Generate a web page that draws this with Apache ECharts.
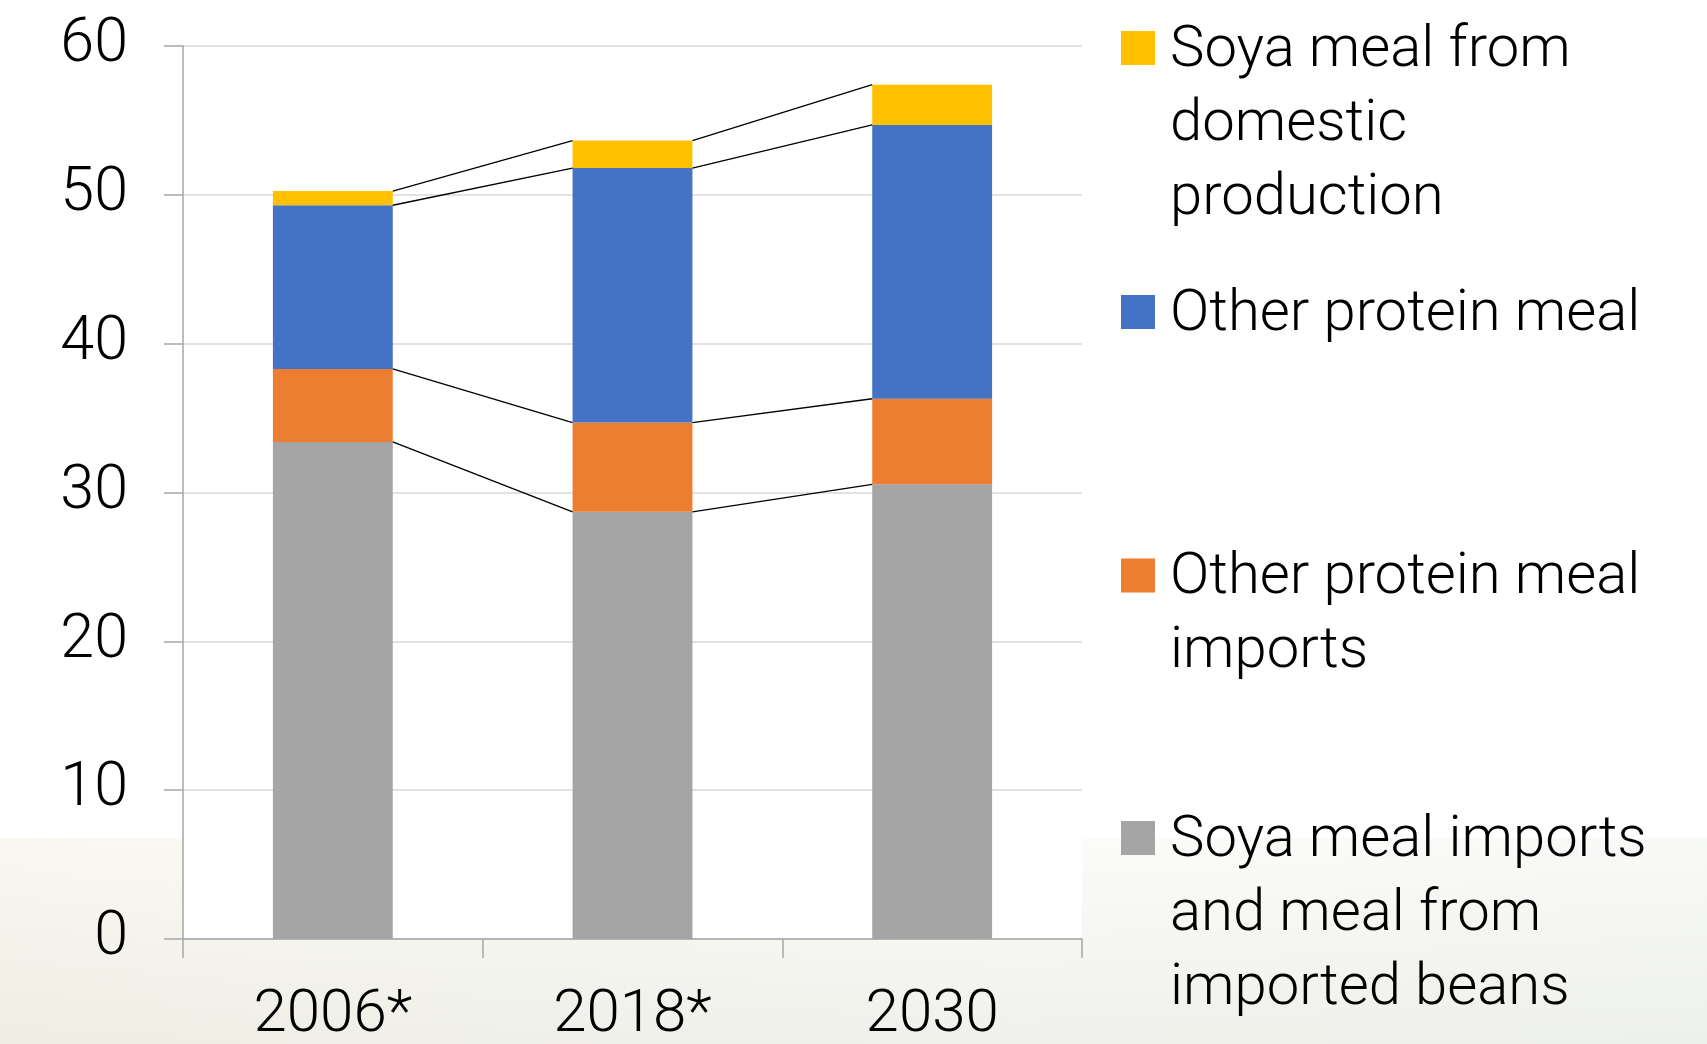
<!DOCTYPE html>
<html>
<head>
<meta charset="utf-8">
<script src="https://cdn.jsdelivr.net/npm/echarts@6/dist/echarts.min.js"></script>
<style>
html,body{margin:0;padding:0;background:#fff;}
#chart{width:1707px;height:1044px;}
</style>
</head>
<body>
<div id="chart"></div>
<script>
const categories = ['2006*', '2018*', '2030'];
const soyaImports = [33.4, 28.7, 30.55];
const otherImports = [4.9, 6.0, 5.75];
const otherMeal = [11.0, 17.1, 18.4];
const soyaDomestic = [0.95, 1.85, 2.7];
const seriesNames = [
  'Soya meal imports\nand meal from\nimported beans',
  'Other protein meal\nimports',
  'Other protein meal',
  'Soya meal from\ndomestic\nproduction'
];
const colors = ['#A5A5A5', '#ED7D31', '#4472C4', '#FFC000'];

const stacks = [soyaImports, otherImports, otherMeal, soyaDomestic];
const cum = [];
let run = categories.map(() => 0);
stacks.forEach(s => { run = run.map((v, i) => v + s[i]); cum.push(run.slice()); });

const FONT = 'Roboto';
const FS = 58;
const LH = 74;
const DROP = 3;

function legendFor(idx, centerY) {
  const lines = seriesNames[idx].split('\n');
  const n = lines.length;
  const T = 2 * DROP + (n - 1) * LH;
  const H = T + n * LH;
  return {
    orient: 'vertical',
    left: 1121,
    top: centerY - H / 2,
    padding: 0,
    icon: 'rect',
    itemWidth: 34,
    itemHeight: 34,
    selectedMode: false,
    data: [seriesNames[idx]],
    formatter: function () {
      return '{s| }\n' + lines.map(l => '{t|' + l + '}').join('\n');
    },
    textStyle: {
      fontFamily: FONT, fontWeight: 300, fontSize: FS, lineHeight: LH, color: '#000',
      padding: [0, 0, 0, 10],
      rich: {
        s: {fontSize: 2, lineHeight: T},
        t: {fontFamily: FONT, fontWeight: 300, fontSize: FS, lineHeight: LH, color: '#000'}
      }
    }
  };
}

const chart = echarts.init(document.getElementById('chart'), null, {renderer: 'canvas'});
const barSeries = stacks.map((s, k) => ({
  name: seriesNames[k],
  type: 'bar',
  stack: 'total',
  barWidth: '40%',
  itemStyle: {color: colors[k]},
  emphasis: {disabled: true},
  data: s
}));

const option = {
  backgroundColor: '#fff',
  animation: false,
  graphic: [
    {
      type: 'rect', z: -100, silent: true,
      shape: {x: 0, y: 838, width: 1707, height: 206},
      style: {fill: new echarts.graphic.LinearGradient(0, 0, 0, 1, [
        {offset: 0, color: '#fcfcfb'}, {offset: 1, color: '#f0f1ec'}
      ])}
    },
    {
      type: 'rect', z: -99, silent: true,
      shape: {x: 0, y: 838, width: 1707, height: 206},
      style: {fill: new echarts.graphic.LinearGradient(0, 0, 1, 0, [
        {offset: 0, color: 'rgba(230,215,170,0.13)'},
        {offset: 0.6, color: 'rgba(235,230,210,0.03)'},
        {offset: 1, color: 'rgba(215,232,222,0.10)'}
      ])}
    }
  ],
  legend: [
    legendFor(3, 48),
    legendFor(2, 312),
    legendFor(1, 575.5),
    legendFor(0, 838)
  ],
  grid: {
    left: 183, right: 625, top: 46, bottom: 105,
    outerBoundsMode: 'none',
    containLabel: false,
    show: true, backgroundColor: '#ffffff', borderWidth: 0
  },
  xAxis: {
    type: 'category',
    data: categories,
    axisLine: {lineStyle: {color: '#a6a6a6', width: 1.5}},
    axisTick: {show: true, length: 19, lineStyle: {color: '#a6a6a6', width: 1.5}},
    axisLabel: {fontFamily: FONT, fontWeight: 300, fontSize: 60, color: '#000', margin: 47}
  },
  yAxis: {
    type: 'value', min: 0, max: 60, interval: 10,
    axisLine: {show: true, lineStyle: {color: '#a6a6a6', width: 1.5}},
    axisTick: {show: true, length: 19, lineStyle: {color: '#a6a6a6', width: 1.5}},
    splitLine: {lineStyle: {color: '#d9d9d9', width: 1.5}},
    axisLabel: {fontFamily: FONT, fontWeight: 300, fontSize: 61, color: '#000', margin: 55}
  },
  series: barSeries.concat([{
    name: 'series lines',
    type: 'custom',
    silent: true,
    z: 5,
    data: [[0, 0], [1, 0]],
    encode: {x: 0, y: 1},
    renderItem: function (params, api) {
      const i = api.value(0);
      const halfW = api.size([1, 0])[0] * 0.2;
      const children = cum.map(level => {
        const p1 = api.coord([i, level[i]]);
        const p2 = api.coord([i + 1, level[i + 1]]);
        return {
          type: 'line',
          shape: {x1: p1[0] + halfW, y1: p1[1], x2: p2[0] - halfW, y2: p2[1]},
          style: {stroke: '#000', lineWidth: 1.3}
        };
      });
      return {type: 'group', children: children};
    }
  }])
};
chart.setOption(option);
</script>
</body>
</html>
